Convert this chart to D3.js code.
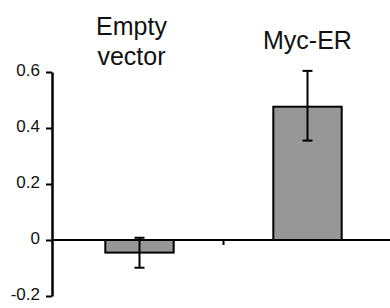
<!DOCTYPE html>
<html>
<head>
<meta charset="utf-8">
<script src="https://cdn.jsdelivr.net/npm/d3@7"></script>
<style>
  body { margin: 0; background: #fff; color: #000; }
</style>
</head>
<body>
<div id="chart-area"></div>
<script>
// data
var categories = ["Empty vector", "Myc-ER"];
var labelLines = [["Empty", "vector"], ["Myc-ER"]];
var means = [-0.045, 0.476];
var errLow = [-0.099, 0.355];
var errHigh = [0.008, 0.604];
var tickValues = [-0.2, 0, 0.2, 0.4, 0.6];
var tickLabels = ["-0.2", "0", "0.2", "0.4", "0.6"];

var svg = d3.select("#chart-area").append("svg")
	.attr("width", 390)
	.attr("height", 308)
	.style("display", "block");

var xScale = d3.scaleBand()
	.domain(categories)
	.range([55.5, 391.5])
	.paddingInner(0.593)
	.paddingOuter(0.2965);

var yScale = d3.scaleLinear()
	.domain([-0.2, 0.6])
	.range([296, 72]);

// y axis
var ga = svg.append("g")
	.attr("transform", "translate(52,0)")
	.call(d3.axisLeft(yScale)
		.tickValues(tickValues)
		.tickSize(6)
		.tickSizeOuter(0)
		.tickPadding(6)
		.tickFormat((d, i) => tickLabels[i]));
ga.selectAll("path")
	.style("stroke", "#000", "important")
	.style("stroke-width", "2.5px", "important")
	.style("fill", "none", "important")
	.attr("class", null);
ga.selectAll("line")
	.style("stroke", "#000", "important")
	.style("stroke-width", "2px", "important");
ga.selectAll("text")
	.style("font-size", "17px", "important")
	.style("font-family", "'Liberation Sans', Arial, sans-serif", "important")
	.style("fill", "#111", "important")
	.attr("dy", "0.2em");
ga.selectAll("g").attr("class", null);

// zero line with the boundary tick between categories
svg.append("line")
	.attr("x1", 52).attr("x2", 390)
	.attr("y1", yScale(0)).attr("y2", yScale(0))
	.attr("stroke", "#000").attr("stroke-width", 2);
var boundary = xScale(categories[1]) - xScale.step() * xScale.paddingInner() / 2;
svg.append("line")
	.attr("x1", boundary).attr("x2", boundary)
	.attr("y1", yScale(0)).attr("y2", yScale(0) + 5)
	.attr("stroke", "#000").attr("stroke-width", 2);

var rows = categories.map((c, i) => ({name: c, v: means[i], lo: errLow[i], hi: errHigh[i]}));

svg.selectAll("rect.bar").data(rows).enter()
	.append("rect")
	.attr("class", "bar")
	.attr("x", (d) => xScale(d.name))
	.attr("y", (d) => yScale(Math.max(0, d.v)))
	.attr("width", xScale.bandwidth())
	.attr("height", (d) => Math.abs(yScale(d.v) - yScale(0)))
	.attr("fill", "#979797")
	.attr("stroke", "#000")
	.attr("stroke-width", 2);

// error bars
var cx = (d) => xScale(d.name) + xScale.bandwidth() / 2;
var eb = svg.selectAll("g.err").data(rows).enter().append("g").attr("class", "err")
	.attr("stroke", "#000").attr("stroke-width", 2);
eb.append("line")
	.attr("x1", cx).attr("x2", cx)
	.attr("y1", (d) => yScale(d.hi)).attr("y2", (d) => yScale(d.lo));
eb.append("line")
	.attr("x1", (d) => cx(d) - 5).attr("x2", (d) => cx(d) + 5)
	.attr("y1", (d) => yScale(d.hi)).attr("y2", (d) => yScale(d.hi));
eb.append("line")
	.attr("x1", (d) => cx(d) - 5).attr("x2", (d) => cx(d) + 5)
	.attr("y1", (d) => yScale(d.lo)).attr("y2", (d) => yScale(d.lo));

// category labels above the chart
var labelY = [[35, 65], [49]];
categories.forEach((c, i) => {
	labelLines[i].forEach((t, j) => {
		svg.append("text")
			.attr("x", xScale(c) + xScale.bandwidth() / 2 - (i === 0 ? 8 : 0))
			.attr("y", labelY[i][j])
			.attr("font-size", 25)
			.attr("font-family", "Liberation Sans, Arial, sans-serif")
			.attr("fill", "#111")
			.attr("text-anchor", "middle")
			.text(t);
	});
});
</script>
</body>
</html>
